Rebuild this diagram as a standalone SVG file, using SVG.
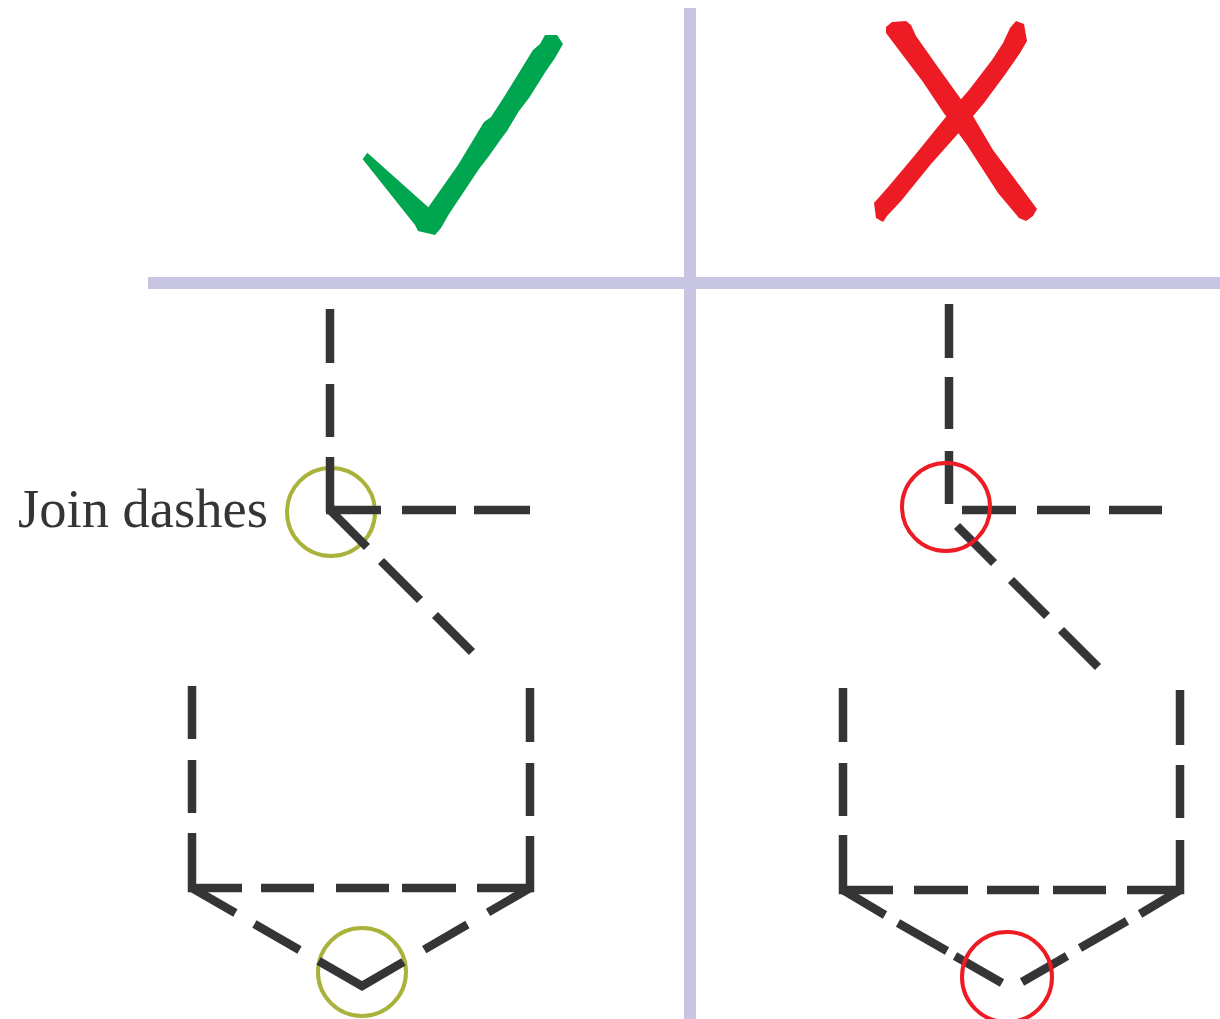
<svg xmlns="http://www.w3.org/2000/svg" width="1220" height="1019" viewBox="0 0 1220 1019">
<style>
.d{fill:none;stroke:#353538;stroke-width:8.5;stroke-linecap:butt;stroke-linejoin:miter;stroke-miterlimit:10}
.ok{fill:none;stroke:#a9b23b;stroke-width:4}
.bad{fill:none;stroke:#ed1c24;stroke-width:4}
.rule{stroke:#c8c5e2;stroke-width:12}
.lbl{font-family:"Liberation Serif","Times New Roman",serif;font-size:54px;fill:#353538}
</style>
<rect width="1220" height="1019" fill="#ffffff"/>
<g id="grid">
<line class="rule" x1="148" y1="283" x2="1220" y2="283"/>
<line class="rule" x1="690" y1="8" x2="690" y2="1019"/>
</g>
<g id="check">
<polygon fill="#00a54f" points="362.7,159.3 367.3,152.7 428.3,207.3 458,165 484,122 491,117 504,97 533,50 540,44 545,35 557,35 563,44 555,58 546,71 529,98 519,111 507,131 501,139 489,156 479,169 449,214 441,228 435,235 418,231 415,225"/>
</g>
<g id="cross" fill="#ed1c24">
<polygon points="886,27 892,22 906,21 911,25 916,36 940,70 973,116 993,150 1020,186 1037,209 1033,216 1026,221 1019,218 998,193 967,145 943,112 923,82 886,33"/>
<polygon points="1016,21 1024,24 1027,41 1020,53 1004,76 984,103 964,127 931,164 901,201 887,216 883,222 876,218 874,203 889,186 915,155 945,118 969,90 992,60 1003,43 1010,28"/>
</g>
<g id="label">
<text class="lbl" x="18" y="527" textLength="250" lengthAdjust="spacingAndGlyphs">Join dashes</text>
</g>
<g id="marks-good">
<circle class="ok" cx="331" cy="512" r="44"/>
<circle class="ok" cx="362" cy="972" r="44"/>
</g>
<g id="connectors">
<g id="good-join">
<path class="d" d="M330,309 V363 M330,384 V437"/>
<path class="d" d="M330,457 V510 L367,547"/>
<path class="d" d="M326,510 H381 M402,510 H456 M474,510 H530"/>
<path class="d" d="M381,561 L420,600 M435,615 L472,652"/>
</g>
<g id="good-shape">
<path class="d" d="M192,686 V739 M192,760 V813"/>
<path class="d" d="M530,688 V742 M530,763 V816"/>
<path class="d" d="M192,833 V888 H242"/>
<path class="d" d="M530,836 V888 H477"/>
<path class="d" d="M192,888 L235.4,913"/>
<path class="d" d="M530,888 L488,912.4"/>
<path class="d" d="M261,888 H314 M336,888 H389 M402,888 H456"/>
<path class="d" d="M254.4,924 L299.5,950 M467.4,924.5 L424.2,949.7"/>
<path class="d" d="M318.6,961 L362,986 L403.5,961.8"/>
</g>
<g id="bad-join">
<path class="d" d="M949,304 V358 M949,377 V429 M949,451 V504"/>
<path class="d" d="M962,510 H1016 M1037,510 H1090 M1109,510 H1162"/>
<path class="d" d="M957,526 L994,563 M1011,580 L1047,616 M1061,630 L1098,667"/>
</g>
<g id="bad-shape">
<path class="d" d="M843,688 V742 M843,763 V816"/>
<path class="d" d="M1180,690 V745 M1180,765 V818"/>
<path class="d" d="M843,835 V890 H893"/>
<path class="d" d="M1180,840 V890 H1127"/>
<path class="d" d="M843,890 L885,915"/>
<path class="d" d="M1180,890 L1140,914"/>
<path class="d" d="M914,890 H968 M987,890 H1039 M1053,890 H1106"/>
<path class="d" d="M898,923 L947,951 M955,956 L1002,983"/>
<path class="d" d="M1127,921 L1080,948 M1067,956 L1022,982"/>
</g>
</g>
<g id="marks-bad">
<circle class="bad" cx="946" cy="507" r="44"/>
<circle class="bad" cx="1007" cy="977" r="45"/>
</g>
</svg>
